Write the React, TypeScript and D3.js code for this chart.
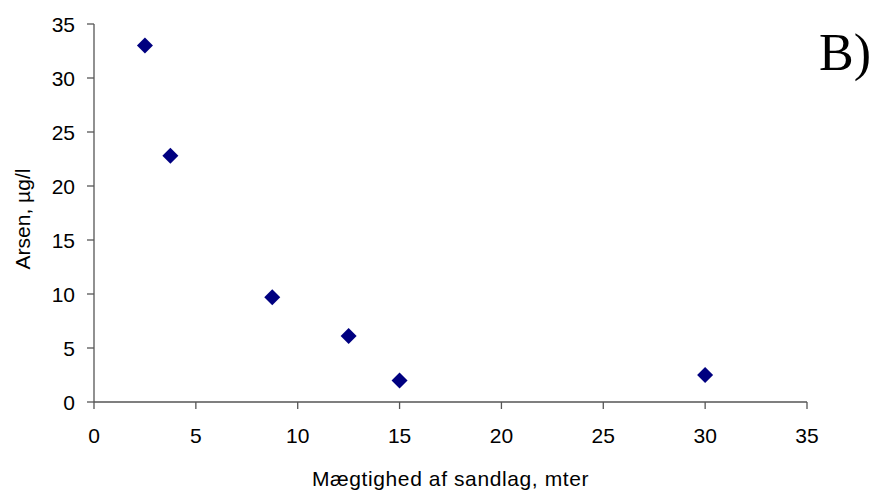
import React from "react";
import * as d3 from "d3";

const xValues = [2.5, 3.75, 8.75, 12.5, 15, 30];
const yValues = [33, 22.8, 9.7, 6.1, 2.0, 2.5];
const xTicks = [0, 5, 10, 15, 20, 25, 30, 35];
const yTicks = [0, 5, 10, 15, 20, 25, 30, 35];
const xTitle = "Mægtighed af sandlag, mter";
const yTitle = "Arsen, µg/l";
const panelLabel = "B)";

export default function App() {
  const W = 875, H = 493;
  const left = 94, right = 807, top = 24, bottom = 402;
  const x = d3.scaleLinear().domain([0, 35]).range([left, right]);
  const y = d3.scaleLinear().domain([0, 35]).range([bottom, top]);
  const diamond = d3.symbol().type(d3.symbolSquare).size(128)();
  const font = "'Liberation Sans', Arial, sans-serif";
  const axisColor = "#555";
  return (
    <svg width={W} height={H} style={{ position: "absolute", left: 0, top: 0, background: "#fff" }}>
      <line x1={left} x2={left} y1={top} y2={bottom} stroke={axisColor} strokeWidth={1.3} />
      <line x1={left} x2={right} y1={bottom} y2={bottom} stroke={axisColor} strokeWidth={1.3} />
      {yTicks.map((t) => (
        <g key={"y" + t}>
          <line x1={left - 7} x2={left} y1={y(t)} y2={y(t)} stroke={axisColor} strokeWidth={1.3} />
          <text x={75} y={y(t)} dy="0.36em" textAnchor="end" fontFamily={font} fontSize={21} fill="#000">{t}</text>
        </g>
      ))}
      {xTicks.map((t) => (
        <g key={"x" + t}>
          <line x1={x(t)} x2={x(t)} y1={bottom} y2={bottom + 7} stroke={axisColor} strokeWidth={1.3} />
          <text x={x(t)} y={443} textAnchor="middle" fontFamily={font} fontSize={21} fill="#000">{t}</text>
        </g>
      ))}
      <text x={(left + right) / 2} y={486} textAnchor="middle" fontFamily={font} fontSize={21} letterSpacing={0.6} fill="#000">{xTitle}</text>
      <text transform={`translate(30,${(top + bottom) / 2 + 6}) rotate(-90)`} textAnchor="middle" fontFamily={font} fontSize={21} fill="#000">{yTitle}</text>
      <text x={819} y={70} fontFamily="'Liberation Serif', 'Times New Roman', serif" fontSize={52} fill="#000">{panelLabel}</text>
      {xValues.map((v, i) => (
        <path key={i} d={diamond} transform={`translate(${x(v)},${y(yValues[i])}) rotate(45)`} fill="#000080" />
      ))}
    </svg>
  );
}
